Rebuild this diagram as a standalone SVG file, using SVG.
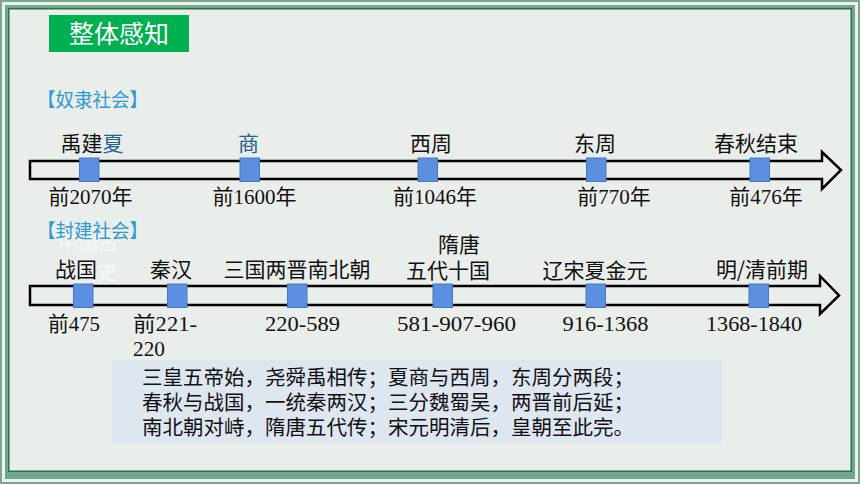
<svg xmlns="http://www.w3.org/2000/svg" width="860" height="484" viewBox="0 0 860 484">
<defs>
<style>
.cj{font-family:"Noto Sans CJK SC","Noto Sans",sans-serif;font-size:21px;fill:#111;text-anchor:middle}
.nm{font-family:"Liberation Serif","Noto Sans CJK SC",serif;font-size:21px;fill:#111;text-anchor:middle}
.st{text-anchor:start}
.sec{font-family:"Noto Sans CJK SC",sans-serif;font-size:19px;fill:#2f9ad3}
.blue{fill:#25628f}
.sq{fill:#5b8fe0;stroke:#4a78c0;stroke-width:1}
.bar{fill:#eaeeea;stroke:#000;stroke-width:2.5;stroke-linejoin:miter}
.poem{font-family:"Noto Sans CJK SC",sans-serif;font-size:20.5px;fill:#111}
.ghost{font-family:"Noto Sans CJK SC",sans-serif;font-size:20px;fill:#ffffff}
</style>
</defs>
<!-- frame -->
<rect x="0" y="0" width="860" height="484" fill="#78a892"/>
<rect x="2" y="2" width="856" height="480" fill="#f3efee"/>
<rect x="5" y="5" width="850" height="474" fill="#6ea98c"/>
<rect x="8" y="8" width="844" height="464" fill="#2f6e50"/>
<rect x="9.5" y="9.5" width="841" height="461" fill="#eaeeea"/>

<g id="title">
<rect x="49" y="15" width="140" height="37" fill="#00b050"/>
<text x="119" y="43" font-family="Noto Sans CJK SC,sans-serif" font-size="25" fill="#fff" text-anchor="middle">整体感知</text>
</g>

<g id="ghost" opacity="0.6">
<text class="ghost" x="58" y="250">中国古</text>
<text class="ghost" x="77" y="280">代史</text>
</g>

<g id="sec1"><text class="sec" x="37" y="107" textLength="111" lengthAdjust="spacingAndGlyphs">【奴隶社会】</text></g>
<g id="sec2"><text class="sec" x="37" y="238" textLength="111" lengthAdjust="spacingAndGlyphs">【封建社会】</text></g>

<g id="connectors">
<path class="bar" d="M30,161 H822 V152 L841,170 L822,189 V179 H30 Z"/>
<path class="bar" d="M30,286 H820 V276 L839,295.5 L820,314 V305 H30 Z"/>
</g>

<!-- timeline 1 -->
<g id="xia">
<rect class="sq" x="79.5" y="158" width="19.5" height="23.5"/>
<text class="cj" x="92" y="151">禹建<tspan class="blue">夏</tspan></text>
<text class="nm" x="90.5" y="204">前2070年</text>
</g>
<g id="shang">
<rect class="sq" x="240" y="158" width="19.5" height="23.5"/>
<text class="cj blue" x="248.5" y="151">商</text>
<text class="nm" x="254.5" y="204">前1600年</text>
</g>
<g id="xizhou">
<rect class="sq" x="418" y="158" width="19.5" height="23.5"/>
<text class="cj" x="431" y="151">西周</text>
<text class="nm" x="435" y="204">前1046年</text>
</g>
<g id="dongzhou">
<rect class="sq" x="586.5" y="158" width="19.5" height="23.5"/>
<text class="cj" x="595" y="151">东周</text>
<text class="nm" x="614" y="204">前770年</text>
</g>
<g id="chunqiu">
<rect class="sq" x="750" y="158" width="19.5" height="23.5"/>
<text class="cj" x="756" y="151">春秋结束</text>
<text class="nm" x="766" y="204">前476年</text>
</g>

<!-- timeline 2 -->
<g id="zhanguo">
<rect class="sq" x="73.5" y="284" width="19.5" height="23.5"/>
<text class="cj" x="76" y="277">战国</text>
<text class="nm" x="74" y="331" textLength="52" lengthAdjust="spacingAndGlyphs">前475</text>
</g>
<g id="qinhan">
<rect class="sq" x="167.5" y="284" width="19.5" height="23.5"/>
<text class="cj" x="171" y="277">秦汉</text>
<text class="nm st" x="133" y="331" textLength="64" lengthAdjust="spacingAndGlyphs">前221-</text>
<text class="nm st" x="133" y="356" textLength="32" lengthAdjust="spacingAndGlyphs">220</text>
</g>
<g id="sanguo">
<rect class="sq" x="287.5" y="284" width="19.5" height="23.5"/>
<text class="cj" x="297" y="277">三国两晋南北朝</text>
<text class="nm" x="302.5" y="331" textLength="75" lengthAdjust="spacingAndGlyphs">220-589</text>
</g>
<g id="suitang">
<rect class="sq" x="433" y="284" width="19.5" height="23.5"/>
<text class="cj" x="459" y="252">隋唐</text>
<text class="cj" x="448" y="278">五代十国</text>
<text class="nm" x="456.5" y="331" textLength="119" lengthAdjust="spacingAndGlyphs">581-907-960</text>
</g>
<g id="song">
<rect class="sq" x="586" y="284" width="19.5" height="23.5"/>
<text class="cj" x="595" y="278">辽宋夏金元</text>
<text class="nm" x="605.5" y="331" textLength="86" lengthAdjust="spacingAndGlyphs">916-1368</text>
</g>
<g id="mingqing">
<rect class="sq" x="749" y="284" width="19.5" height="23.5"/>
<text class="cj" x="762" y="277">明/清前期</text>
<text class="nm" x="754" y="331" textLength="96" lengthAdjust="spacingAndGlyphs">1368-1840</text>
</g>

<g id="poem">
<rect x="112" y="360" width="610" height="83" fill="#dee6f0"/>
<text class="poem" x="142" y="385">三皇五帝始，尧舜禹相传；夏商与西周，东周分两段；</text>
<text class="poem" x="142" y="410">春秋与战国，一统秦两汉；三分魏蜀吴，两晋前后延；</text>
<text class="poem" x="142" y="435">南北朝对峙，隋唐五代传；宋元明清后，皇朝至此完。</text>
</g>
</svg>
